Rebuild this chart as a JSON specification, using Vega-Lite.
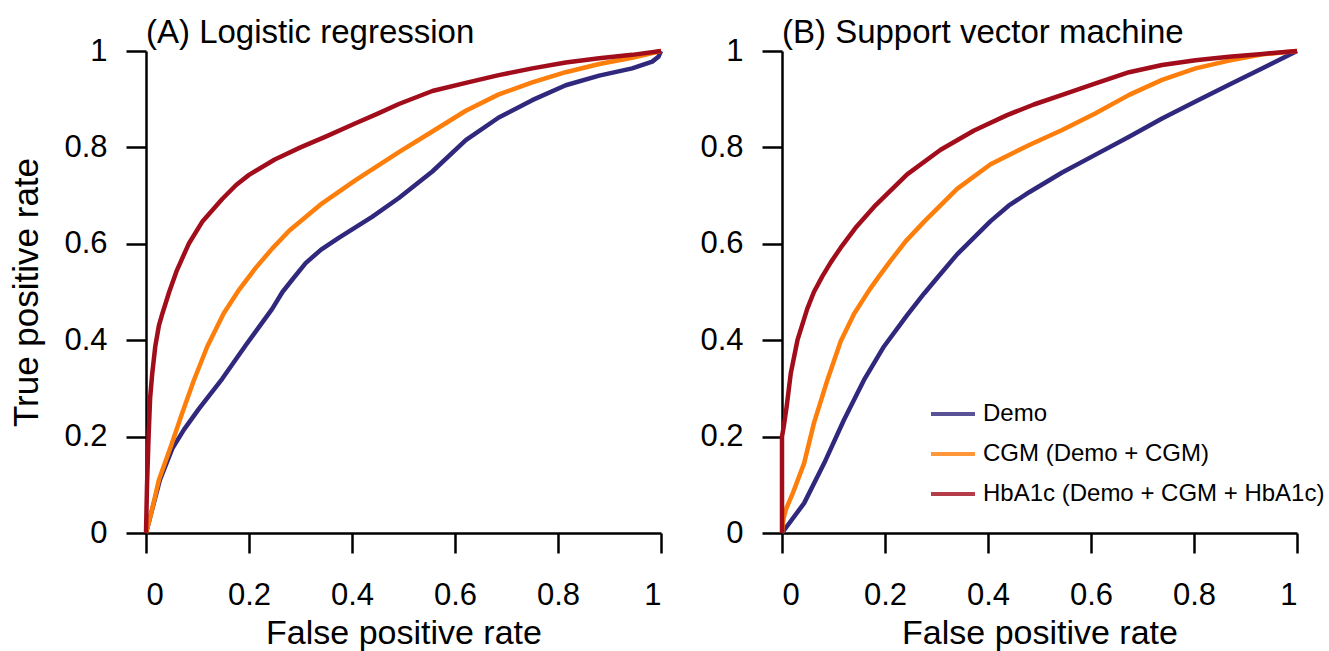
{
  "$schema": "https://vega.github.io/schema/vega-lite/v6.json",
  "autosize": {"type": "pad"},
  "padding": {"left": 9, "top": 17, "right": 10, "bottom": 4},
  "background": "white",
  "config": {
    "font": "Liberation Sans",
    "view": {"stroke": null},
    "axis": {
      "domainColor": "black", "domainWidth": 2.5, "tickColor": "black", "tickWidth": 2.5, "tickSize": 20,
      "labelFontSize": 31, "labelColor": "black", "labelFont": "Liberation Sans",
      "titleFontSize": 34, "titleFontWeight": "normal", "titleColor": "black", "titleFont": "Liberation Sans",
      "grid": false
    },
    "axisX": {"labelPadding": 27, "titlePadding": 6},
    "axisY": {"labelPadding": 19, "titlePadding": 19, "titleFontSize": 35},
    "title": {"fontSize": 33, "fontWeight": "normal", "anchor": "start", "frame": "group", "offset": -15, "color": "black", "font": "Liberation Sans"}
  },
  "data": {"values": [
    {"panel":"A","model":"Demo","fpr":0,"tpr":0},
    {"panel":"A","model":"Demo","fpr":0.005,"tpr":0.02},
    {"panel":"A","model":"Demo","fpr":0.011,"tpr":0.045},
    {"panel":"A","model":"Demo","fpr":0.027,"tpr":0.11},
    {"panel":"A","model":"Demo","fpr":0.051,"tpr":0.175},
    {"panel":"A","model":"Demo","fpr":0.074,"tpr":0.215},
    {"panel":"A","model":"Demo","fpr":0.103,"tpr":0.258},
    {"panel":"A","model":"Demo","fpr":0.148,"tpr":0.32},
    {"panel":"A","model":"Demo","fpr":0.194,"tpr":0.39},
    {"panel":"A","model":"Demo","fpr":0.245,"tpr":0.465},
    {"panel":"A","model":"Demo","fpr":0.265,"tpr":0.5},
    {"panel":"A","model":"Demo","fpr":0.285,"tpr":0.527},
    {"panel":"A","model":"Demo","fpr":0.31,"tpr":0.56},
    {"panel":"A","model":"Demo","fpr":0.34,"tpr":0.588},
    {"panel":"A","model":"Demo","fpr":0.375,"tpr":0.613},
    {"panel":"A","model":"Demo","fpr":0.439,"tpr":0.656},
    {"panel":"A","model":"Demo","fpr":0.491,"tpr":0.695},
    {"panel":"A","model":"Demo","fpr":0.556,"tpr":0.75},
    {"panel":"A","model":"Demo","fpr":0.621,"tpr":0.815},
    {"panel":"A","model":"Demo","fpr":0.685,"tpr":0.862},
    {"panel":"A","model":"Demo","fpr":0.75,"tpr":0.898},
    {"panel":"A","model":"Demo","fpr":0.815,"tpr":0.929},
    {"panel":"A","model":"Demo","fpr":0.88,"tpr":0.949},
    {"panel":"A","model":"Demo","fpr":0.944,"tpr":0.964},
    {"panel":"A","model":"Demo","fpr":0.983,"tpr":0.978},
    {"panel":"A","model":"Demo","fpr":0.995,"tpr":0.988},
    {"panel":"A","model":"Demo","fpr":1,"tpr":1},
    {"panel":"A","model":"CGM (Demo + CGM)","fpr":0,"tpr":0},
    {"panel":"A","model":"CGM (Demo + CGM)","fpr":0.005,"tpr":0.02},
    {"panel":"A","model":"CGM (Demo + CGM)","fpr":0.011,"tpr":0.045},
    {"panel":"A","model":"CGM (Demo + CGM)","fpr":0.025,"tpr":0.11},
    {"panel":"A","model":"CGM (Demo + CGM)","fpr":0.048,"tpr":0.179},
    {"panel":"A","model":"CGM (Demo + CGM)","fpr":0.07,"tpr":0.248},
    {"panel":"A","model":"CGM (Demo + CGM)","fpr":0.093,"tpr":0.317},
    {"panel":"A","model":"CGM (Demo + CGM)","fpr":0.119,"tpr":0.387},
    {"panel":"A","model":"CGM (Demo + CGM)","fpr":0.151,"tpr":0.456},
    {"panel":"A","model":"CGM (Demo + CGM)","fpr":0.181,"tpr":0.505},
    {"panel":"A","model":"CGM (Demo + CGM)","fpr":0.213,"tpr":0.55},
    {"panel":"A","model":"CGM (Demo + CGM)","fpr":0.245,"tpr":0.59},
    {"panel":"A","model":"CGM (Demo + CGM)","fpr":0.278,"tpr":0.627},
    {"panel":"A","model":"CGM (Demo + CGM)","fpr":0.342,"tpr":0.684},
    {"panel":"A","model":"CGM (Demo + CGM)","fpr":0.407,"tpr":0.732},
    {"panel":"A","model":"CGM (Demo + CGM)","fpr":0.491,"tpr":0.79},
    {"panel":"A","model":"CGM (Demo + CGM)","fpr":0.556,"tpr":0.833},
    {"panel":"A","model":"CGM (Demo + CGM)","fpr":0.621,"tpr":0.876},
    {"panel":"A","model":"CGM (Demo + CGM)","fpr":0.685,"tpr":0.91},
    {"panel":"A","model":"CGM (Demo + CGM)","fpr":0.75,"tpr":0.935},
    {"panel":"A","model":"CGM (Demo + CGM)","fpr":0.815,"tpr":0.956},
    {"panel":"A","model":"CGM (Demo + CGM)","fpr":0.88,"tpr":0.973},
    {"panel":"A","model":"CGM (Demo + CGM)","fpr":0.944,"tpr":0.986},
    {"panel":"A","model":"CGM (Demo + CGM)","fpr":1,"tpr":1},
    {"panel":"A","model":"HbA1c (Demo + CGM + HbA1c)","fpr":0,"tpr":0},
    {"panel":"A","model":"HbA1c (Demo + CGM + HbA1c)","fpr":0.002,"tpr":0.1},
    {"panel":"A","model":"HbA1c (Demo + CGM + HbA1c)","fpr":0.005,"tpr":0.2},
    {"panel":"A","model":"HbA1c (Demo + CGM + HbA1c)","fpr":0.008,"tpr":0.28},
    {"panel":"A","model":"HbA1c (Demo + CGM + HbA1c)","fpr":0.012,"tpr":0.33},
    {"panel":"A","model":"HbA1c (Demo + CGM + HbA1c)","fpr":0.018,"tpr":0.387},
    {"panel":"A","model":"HbA1c (Demo + CGM + HbA1c)","fpr":0.025,"tpr":0.43},
    {"panel":"A","model":"HbA1c (Demo + CGM + HbA1c)","fpr":0.032,"tpr":0.456},
    {"panel":"A","model":"HbA1c (Demo + CGM + HbA1c)","fpr":0.045,"tpr":0.5},
    {"panel":"A","model":"HbA1c (Demo + CGM + HbA1c)","fpr":0.06,"tpr":0.545},
    {"panel":"A","model":"HbA1c (Demo + CGM + HbA1c)","fpr":0.083,"tpr":0.6},
    {"panel":"A","model":"HbA1c (Demo + CGM + HbA1c)","fpr":0.11,"tpr":0.647},
    {"panel":"A","model":"HbA1c (Demo + CGM + HbA1c)","fpr":0.148,"tpr":0.693},
    {"panel":"A","model":"HbA1c (Demo + CGM + HbA1c)","fpr":0.175,"tpr":0.722},
    {"panel":"A","model":"HbA1c (Demo + CGM + HbA1c)","fpr":0.2,"tpr":0.743},
    {"panel":"A","model":"HbA1c (Demo + CGM + HbA1c)","fpr":0.25,"tpr":0.775},
    {"panel":"A","model":"HbA1c (Demo + CGM + HbA1c)","fpr":0.3,"tpr":0.8},
    {"panel":"A","model":"HbA1c (Demo + CGM + HbA1c)","fpr":0.35,"tpr":0.823},
    {"panel":"A","model":"HbA1c (Demo + CGM + HbA1c)","fpr":0.407,"tpr":0.85},
    {"panel":"A","model":"HbA1c (Demo + CGM + HbA1c)","fpr":0.45,"tpr":0.87},
    {"panel":"A","model":"HbA1c (Demo + CGM + HbA1c)","fpr":0.491,"tpr":0.89},
    {"panel":"A","model":"HbA1c (Demo + CGM + HbA1c)","fpr":0.556,"tpr":0.917},
    {"panel":"A","model":"HbA1c (Demo + CGM + HbA1c)","fpr":0.621,"tpr":0.934},
    {"panel":"A","model":"HbA1c (Demo + CGM + HbA1c)","fpr":0.685,"tpr":0.95},
    {"panel":"A","model":"HbA1c (Demo + CGM + HbA1c)","fpr":0.75,"tpr":0.964},
    {"panel":"A","model":"HbA1c (Demo + CGM + HbA1c)","fpr":0.815,"tpr":0.976},
    {"panel":"A","model":"HbA1c (Demo + CGM + HbA1c)","fpr":0.88,"tpr":0.985},
    {"panel":"A","model":"HbA1c (Demo + CGM + HbA1c)","fpr":0.944,"tpr":0.992},
    {"panel":"A","model":"HbA1c (Demo + CGM + HbA1c)","fpr":1,"tpr":1},
    {"panel":"B","model":"Demo","fpr":0,"tpr":0},
    {"panel":"B","model":"Demo","fpr":0.043,"tpr":0.062},
    {"panel":"B","model":"Demo","fpr":0.082,"tpr":0.145},
    {"panel":"B","model":"Demo","fpr":0.12,"tpr":0.234},
    {"panel":"B","model":"Demo","fpr":0.159,"tpr":0.317},
    {"panel":"B","model":"Demo","fpr":0.198,"tpr":0.387},
    {"panel":"B","model":"Demo","fpr":0.243,"tpr":0.452},
    {"panel":"B","model":"Demo","fpr":0.276,"tpr":0.497},
    {"panel":"B","model":"Demo","fpr":0.302,"tpr":0.53},
    {"panel":"B","model":"Demo","fpr":0.34,"tpr":0.578},
    {"panel":"B","model":"Demo","fpr":0.405,"tpr":0.647},
    {"panel":"B","model":"Demo","fpr":0.44,"tpr":0.679},
    {"panel":"B","model":"Demo","fpr":0.48,"tpr":0.707},
    {"panel":"B","model":"Demo","fpr":0.544,"tpr":0.748},
    {"panel":"B","model":"Demo","fpr":0.609,"tpr":0.785},
    {"panel":"B","model":"Demo","fpr":0.674,"tpr":0.822},
    {"panel":"B","model":"Demo","fpr":0.738,"tpr":0.86},
    {"panel":"B","model":"Demo","fpr":0.803,"tpr":0.895},
    {"panel":"B","model":"Demo","fpr":0.868,"tpr":0.93},
    {"panel":"B","model":"Demo","fpr":0.933,"tpr":0.964},
    {"panel":"B","model":"Demo","fpr":1,"tpr":1},
    {"panel":"B","model":"CGM (Demo + CGM)","fpr":0,"tpr":0},
    {"panel":"B","model":"CGM (Demo + CGM)","fpr":0.003,"tpr":0.03},
    {"panel":"B","model":"CGM (Demo + CGM)","fpr":0.008,"tpr":0.05},
    {"panel":"B","model":"CGM (Demo + CGM)","fpr":0.02,"tpr":0.08},
    {"panel":"B","model":"CGM (Demo + CGM)","fpr":0.043,"tpr":0.145},
    {"panel":"B","model":"CGM (Demo + CGM)","fpr":0.062,"tpr":0.228},
    {"panel":"B","model":"CGM (Demo + CGM)","fpr":0.088,"tpr":0.317},
    {"panel":"B","model":"CGM (Demo + CGM)","fpr":0.114,"tpr":0.398},
    {"panel":"B","model":"CGM (Demo + CGM)","fpr":0.14,"tpr":0.455},
    {"panel":"B","model":"CGM (Demo + CGM)","fpr":0.17,"tpr":0.505},
    {"panel":"B","model":"CGM (Demo + CGM)","fpr":0.188,"tpr":0.532},
    {"panel":"B","model":"CGM (Demo + CGM)","fpr":0.211,"tpr":0.565},
    {"panel":"B","model":"CGM (Demo + CGM)","fpr":0.24,"tpr":0.605},
    {"panel":"B","model":"CGM (Demo + CGM)","fpr":0.276,"tpr":0.646},
    {"panel":"B","model":"CGM (Demo + CGM)","fpr":0.34,"tpr":0.714},
    {"panel":"B","model":"CGM (Demo + CGM)","fpr":0.405,"tpr":0.765},
    {"panel":"B","model":"CGM (Demo + CGM)","fpr":0.48,"tpr":0.805},
    {"panel":"B","model":"CGM (Demo + CGM)","fpr":0.544,"tpr":0.836},
    {"panel":"B","model":"CGM (Demo + CGM)","fpr":0.609,"tpr":0.871},
    {"panel":"B","model":"CGM (Demo + CGM)","fpr":0.674,"tpr":0.909},
    {"panel":"B","model":"CGM (Demo + CGM)","fpr":0.738,"tpr":0.94},
    {"panel":"B","model":"CGM (Demo + CGM)","fpr":0.803,"tpr":0.964},
    {"panel":"B","model":"CGM (Demo + CGM)","fpr":0.868,"tpr":0.98},
    {"panel":"B","model":"CGM (Demo + CGM)","fpr":0.933,"tpr":0.993},
    {"panel":"B","model":"CGM (Demo + CGM)","fpr":1,"tpr":1},
    {"panel":"B","model":"HbA1c (Demo + CGM + HbA1c)","fpr":0,"tpr":0},
    {"panel":"B","model":"HbA1c (Demo + CGM + HbA1c)","fpr":0,"tpr":0.2},
    {"panel":"B","model":"HbA1c (Demo + CGM + HbA1c)","fpr":0.004,"tpr":0.225},
    {"panel":"B","model":"HbA1c (Demo + CGM + HbA1c)","fpr":0.009,"tpr":0.262},
    {"panel":"B","model":"HbA1c (Demo + CGM + HbA1c)","fpr":0.017,"tpr":0.331},
    {"panel":"B","model":"HbA1c (Demo + CGM + HbA1c)","fpr":0.03,"tpr":0.4},
    {"panel":"B","model":"HbA1c (Demo + CGM + HbA1c)","fpr":0.049,"tpr":0.465},
    {"panel":"B","model":"HbA1c (Demo + CGM + HbA1c)","fpr":0.062,"tpr":0.5},
    {"panel":"B","model":"HbA1c (Demo + CGM + HbA1c)","fpr":0.078,"tpr":0.532},
    {"panel":"B","model":"HbA1c (Demo + CGM + HbA1c)","fpr":0.095,"tpr":0.562},
    {"panel":"B","model":"HbA1c (Demo + CGM + HbA1c)","fpr":0.114,"tpr":0.592},
    {"panel":"B","model":"HbA1c (Demo + CGM + HbA1c)","fpr":0.145,"tpr":0.636},
    {"panel":"B","model":"HbA1c (Demo + CGM + HbA1c)","fpr":0.179,"tpr":0.677},
    {"panel":"B","model":"HbA1c (Demo + CGM + HbA1c)","fpr":0.243,"tpr":0.744},
    {"panel":"B","model":"HbA1c (Demo + CGM + HbA1c)","fpr":0.308,"tpr":0.795},
    {"panel":"B","model":"HbA1c (Demo + CGM + HbA1c)","fpr":0.373,"tpr":0.835},
    {"panel":"B","model":"HbA1c (Demo + CGM + HbA1c)","fpr":0.437,"tpr":0.867},
    {"panel":"B","model":"HbA1c (Demo + CGM + HbA1c)","fpr":0.489,"tpr":0.889},
    {"panel":"B","model":"HbA1c (Demo + CGM + HbA1c)","fpr":0.544,"tpr":0.909},
    {"panel":"B","model":"HbA1c (Demo + CGM + HbA1c)","fpr":0.609,"tpr":0.933},
    {"panel":"B","model":"HbA1c (Demo + CGM + HbA1c)","fpr":0.674,"tpr":0.956},
    {"panel":"B","model":"HbA1c (Demo + CGM + HbA1c)","fpr":0.738,"tpr":0.971},
    {"panel":"B","model":"HbA1c (Demo + CGM + HbA1c)","fpr":0.803,"tpr":0.981},
    {"panel":"B","model":"HbA1c (Demo + CGM + HbA1c)","fpr":0.868,"tpr":0.988},
    {"panel":"B","model":"HbA1c (Demo + CGM + HbA1c)","fpr":0.933,"tpr":0.994},
    {"panel":"B","model":"HbA1c (Demo + CGM + HbA1c)","fpr":1,"tpr":1}
  ]},
  "spacing": 121,
  "bounds": "flush",
  "resolve": {"scale": {"color": "shared"}, "legend": {"color": "independent"}},
  "hconcat": [
    {
      "width": 515, "height": 482,
      "title": {"text": "(A) Logistic regression"},
      "transform": [{"filter": "datum.panel === 'A'"}],
      "mark": {"type": "line", "strokeWidth": 4.5, "strokeJoin": "round"},
      "encoding": {
        "x": {"field": "fpr", "type": "quantitative", "scale": {"domain": [0, 1], "nice": false, "zero": false}, "axis": {"values": [0, 0.2, 0.4, 0.6, 0.8, 1], "format": "~g", "title": "False positive rate"}},
        "y": {"field": "tpr", "type": "quantitative", "scale": {"domain": [0, 1], "nice": false, "zero": false}, "axis": {"values": [0, 0.2, 0.4, 0.6, 0.8, 1], "format": "~g", "title": "True positive rate"}},
        "color": {"field": "model", "type": "nominal", "scale": {"domain": ["Demo", "CGM (Demo + CGM)", "HbA1c (Demo + CGM + HbA1c)"], "range": ["#30287c", "#fd7e0a", "#a20d1c"]}, "legend": null},
        "order": {"value": null}
      }
    },
    {
      "width": 515, "height": 482,
      "title": {"text": "(B) Support vector machine"},
      "transform": [{"filter": "datum.panel === 'B'"}],
      "mark": {"type": "line", "strokeWidth": 4.5, "strokeJoin": "round"},
      "encoding": {
        "x": {"field": "fpr", "type": "quantitative", "scale": {"domain": [0, 1], "nice": false, "zero": false}, "axis": {"values": [0, 0.2, 0.4, 0.6, 0.8, 1], "format": "~g", "title": "False positive rate"}},
        "y": {"field": "tpr", "type": "quantitative", "scale": {"domain": [0, 1], "nice": false, "zero": false}, "axis": {"values": [0, 0.2, 0.4, 0.6, 0.8, 1], "format": "~g", "title": null}},
        "color": {"field": "model", "type": "nominal", "scale": {"domain": ["Demo", "CGM (Demo + CGM)", "HbA1c (Demo + CGM + HbA1c)"], "range": ["#30287c", "#fd7e0a", "#a20d1c"]},
          "legend": {"title": null, "orient": "none", "legendX": 147, "legendY": 343, "symbolType": "stroke", "symbolSize": 1936, "symbolStrokeWidth": 4, "symbolOpacity": 0.8, "clipHeight": 40, "rowPadding": 0, "labelFontSize": 24, "labelFont": "Liberation Sans", "labelColor": "black", "labelOffset": 6, "labelLimit": 500, "padding": 0}},
        "order": {"value": null}
      }
    }
  ]
}
